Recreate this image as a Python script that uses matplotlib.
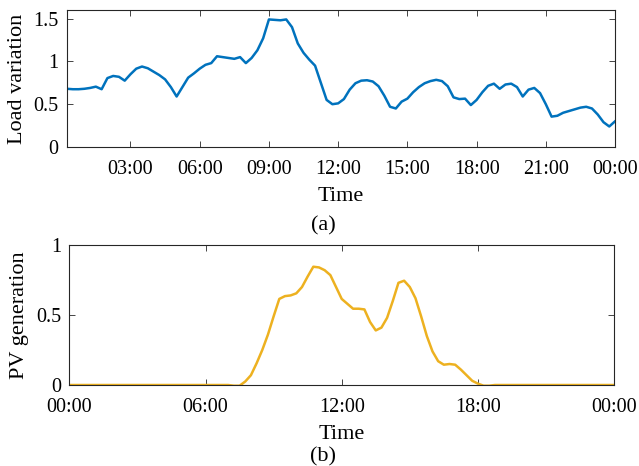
import numpy as np
import matplotlib
matplotlib.use("Agg")
import matplotlib.pyplot as plt

plt.rcParams['font.family'] = ['Liberation Serif', 'DejaVu Serif']
plt.rcParams['mathtext.fontset'] = 'stix'

# Load variation, 15-min resolution from 00:15 to 24:00 (hours)
load_hours = [0.25 * (i + 1) for i in range(96)]
load_values = [
    0.68, 0.675, 0.675, 0.68, 0.69, 0.705, 0.675, 0.805,
    0.83, 0.82, 0.775, 0.85, 0.915, 0.94, 0.92, 0.88,
    0.84, 0.79, 0.70, 0.59, 0.70, 0.81, 0.86, 0.915,
    0.96, 0.98, 1.06, 1.05, 1.04, 1.03, 1.05, 0.98,
    1.04, 1.13, 1.27, 1.49, 1.485, 1.48, 1.49, 1.40,
    1.21, 1.10, 1.02, 0.95, 0.75, 0.55, 0.50, 0.51,
    0.56, 0.67, 0.745, 0.775, 0.78, 0.765, 0.71, 0.60,
    0.47, 0.45, 0.53, 0.565, 0.64, 0.70, 0.745, 0.77,
    0.785, 0.77, 0.71, 0.58, 0.56, 0.565, 0.49, 0.55,
    0.64, 0.715, 0.74, 0.68, 0.73, 0.74, 0.70, 0.59,
    0.67, 0.69, 0.63, 0.50, 0.355, 0.365, 0.40, 0.42,
    0.44, 0.46, 0.47, 0.45, 0.38, 0.29, 0.24, 0.30,
]

# PV generation, 15-min resolution from 00:00 to 24:00 (hours)
pv_hours = [0.25 * i for i in range(97)]
pv_values = [0.0] * 28 + [
    0.0, -0.005, -0.005, 0.025, 0.07, 0.155, 0.25, 0.36,
    0.49, 0.615, 0.635, 0.64, 0.655, 0.70, 0.775, 0.845,
    0.84, 0.82, 0.785, 0.70, 0.615, 0.58, 0.545, 0.545,
    0.54, 0.45, 0.39, 0.41, 0.48, 0.60, 0.73, 0.745,
    0.70, 0.62, 0.49, 0.35, 0.24, 0.17, 0.145, 0.15,
    0.145, 0.11, 0.07, 0.03, 0.01, -0.005, -0.005, 0.0,
    0.0,
] + [0.0] * 20

top_xticks = [3, 6, 9, 12, 15, 18, 21, 24]
top_xlabels = ['03:00', '06:00', '09:00', '12:00', '15:00', '18:00', '21:00', '00:00']
top_yticks = [0, 0.5, 1, 1.5]
top_ylabels = ['0', '0.5', '1', '1.5']

bot_xticks = [0, 6, 12, 18, 24]
bot_xlabels = ['00:00', '06:00', '12:00', '18:00', '00:00']
bot_yticks = [0, 0.5, 1]
bot_ylabels = ['0', '0.5', '1']

blue = '#0072BD'
gold = '#EDB120'
axcol = '#262626'

fig = plt.figure(figsize=(6.39, 4.66), dpi=100)

def style(ax):
    for s in ax.spines.values():
        s.set_color(axcol)
        s.set_linewidth(0.8)
    ax.tick_params(direction='in', top=True, right=True, length=4,
                   width=0.6, color=axcol, labelsize=14.5, labelcolor='black')
    ax.tick_params(axis='x', pad=9)
    ax.tick_params(axis='y', pad=6)

ax1 = fig.add_axes([0.1049, 0.6845, 0.8576, 0.294])
ax1.plot(load_hours, load_values, color=blue, lw=1.8)
ax1.set_xlim(0.25, 24)
ax1.set_ylim(0, 1.6)
ax1.set_xticks(top_xticks)
ax1.set_xticklabels(top_xlabels)
ax1.set_yticks(top_yticks)
ax1.set_yticklabels(top_ylabels)
ax1.set_xlabel('Time', fontsize=16, labelpad=6)
ax1.set_ylabel('Load variation', fontsize=16, labelpad=5)
style(ax1)

ax2 = fig.add_axes([0.1085, 0.1738, 0.8525, 0.3004])
ax2.plot(pv_hours, pv_values, color=gold, lw=1.8)
ax2.set_xlim(0, 24)
ax2.set_ylim(0, 1)
ax2.set_xticks(bot_xticks)
ax2.set_xticklabels(bot_xlabels)
ax2.set_yticks(bot_yticks)
ax2.set_yticklabels(bot_ylabels)
ax2.set_xlabel('Time', fontsize=16, labelpad=6)
ax2.set_ylabel('PV generation', fontsize=16, labelpad=5)
style(ax2)

fig.text(323 / 639, 1 - 226 / 466, '(a)', ha='center', va='center', fontsize=16)
fig.text(323 / 639, 1 - 457 / 466, '(b)', ha='center', va='center', fontsize=16)

fig.savefig('out.png', dpi=100)
